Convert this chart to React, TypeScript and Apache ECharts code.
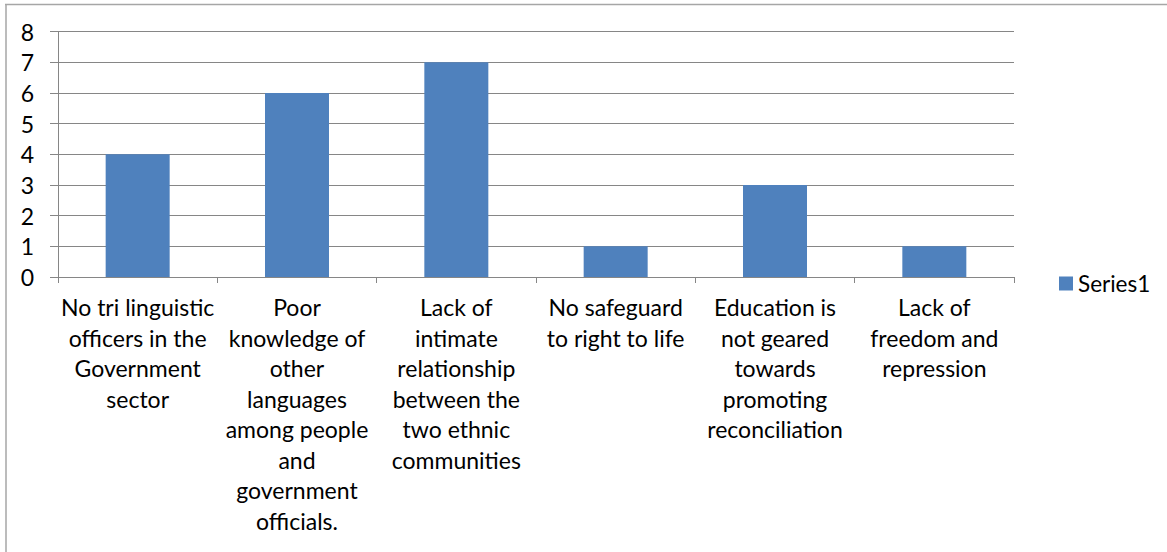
import React, { useEffect, useRef } from "react";
import * as echarts from "echarts";

const categories = [
  "No tri linguistic\nofficers in the\nGovernment\nsector",
  "Poor\nknowledge of\nother\nlanguages\namong people\nand\ngovernment\nofficials.",
  "Lack of\nintimate\nrelationship\nbetween the\ntwo ethnic\ncommunities",
  "No safeguard\nto right to life",
  "Education is\nnot geared\ntowards\npromoting\nreconciliation",
  "Lack of\nfreedom and\nrepression",
];
const series1 = [4, 6, 7, 1, 3, 1];
const seriesName = "Series1";

const FONT = "Lato";
const GRID_COLOR = "#868686";
const BAR_COLOR = "#4F81BD";

export default function App() {
  const ref = useRef<HTMLDivElement>(null);
  useEffect(() => {
    if (!ref.current) return;
    const chart = echarts.init(ref.current, undefined, { renderer: "svg" });
    chart.setOption({
      animation: false,
      backgroundColor: "#ffffff",
      textStyle: { fontFamily: FONT },
      grid: { left: 58, right: 153, top: 31.5, bottom: 275, containLabel: false },
      legend: {
        show: true,
        data: [seriesName],
        left: 1054,
        top: 267,
        icon: "rect",
        itemWidth: 14,
        itemHeight: 14,
        textStyle: { fontFamily: FONT, fontSize: 22.5, color: "#000" },
      },
      xAxis: {
        type: "category",
        data: categories,
        axisLine: { show: true, lineStyle: { color: GRID_COLOR, width: 1 } },
        axisTick: { show: true, length: 6, alignWithLabel: false, lineStyle: { color: GRID_COLOR } },
        axisLabel: {
          interval: 0,
          margin: 15,
          fontFamily: FONT,
          fontSize: 23,
          lineHeight: 30.5,
          color: "#000",
          align: "center",
        },
        splitLine: { show: false },
      },
      yAxis: {
        type: "value",
        min: 0,
        max: 8,
        interval: 1,
        axisLine: { show: true, lineStyle: { color: GRID_COLOR, width: 1 } },
        axisTick: { show: true, length: 8, lineStyle: { color: GRID_COLOR } },
        axisLabel: { margin: 24, fontFamily: FONT, fontSize: 23, color: "#000" },
        splitLine: { show: true, lineStyle: { color: GRID_COLOR, width: 1 } },
      },
      series: [
        {
          name: seriesName,
          type: "bar",
          data: series1,
          barWidth: 64,
          itemStyle: { color: BAR_COLOR },
        },
      ],
      graphic: [
        {
          type: "line",
          shape: { x1: 5, y1: 4.5, x2: 1167, y2: 4.5 },
          style: { stroke: "#A6A6A6", lineWidth: 1.5 },
          silent: true,
        },
        {
          type: "line",
          shape: { x1: 6, y1: 4, x2: 6, y2: 552 },
          style: { stroke: "#A6A6A6", lineWidth: 1.5 },
          silent: true,
        },
      ],
    });
    return () => chart.dispose();
  }, []);
  return (
    <div
      ref={ref}
      style={{ position: "fixed", left: 0, top: 0, width: 1167, height: 552 }}
    />
  );
}
